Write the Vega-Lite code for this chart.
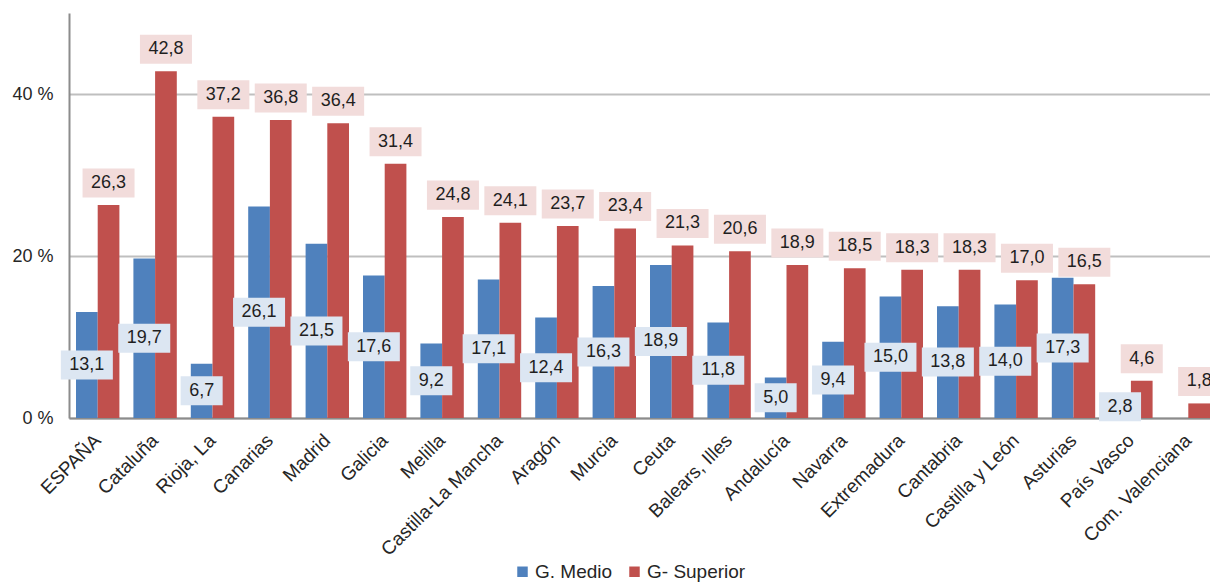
{
  "$schema": "https://vega.github.io/schema/vega-lite/v6.json",
  "autosize": "none",
  "width": 1141,
  "height": 405,
  "padding": {"left": 69, "top": 13, "right": 0, "bottom": 164},
  "background": "white",
  "config": {
    "font": "Liberation Sans",
    "view": {"stroke": null},
    "locale": {"number": {"decimal": ",", "thousands": ".", "grouping": [3], "currency": ["", " €"]}},
    "legend": {"padding": 0}
  },
  "data": {
    "values": [
      {"region": "ESPAÑA", "series": "G. Medio", "value": 13.1},
      {"region": "ESPAÑA", "series": "G- Superior", "value": 26.3},
      {"region": "Cataluña", "series": "G. Medio", "value": 19.7},
      {"region": "Cataluña", "series": "G- Superior", "value": 42.8},
      {"region": "Rioja, La", "series": "G. Medio", "value": 6.7},
      {"region": "Rioja, La", "series": "G- Superior", "value": 37.2},
      {"region": "Canarias", "series": "G. Medio", "value": 26.1},
      {"region": "Canarias", "series": "G- Superior", "value": 36.8},
      {"region": "Madrid", "series": "G. Medio", "value": 21.5},
      {"region": "Madrid", "series": "G- Superior", "value": 36.4},
      {"region": "Galicia", "series": "G. Medio", "value": 17.6},
      {"region": "Galicia", "series": "G- Superior", "value": 31.4},
      {"region": "Melilla", "series": "G. Medio", "value": 9.2},
      {"region": "Melilla", "series": "G- Superior", "value": 24.8},
      {"region": "Castilla-La Mancha", "series": "G. Medio", "value": 17.1},
      {"region": "Castilla-La Mancha", "series": "G- Superior", "value": 24.1},
      {"region": "Aragón", "series": "G. Medio", "value": 12.4},
      {"region": "Aragón", "series": "G- Superior", "value": 23.7},
      {"region": "Murcia", "series": "G. Medio", "value": 16.3},
      {"region": "Murcia", "series": "G- Superior", "value": 23.4},
      {"region": "Ceuta", "series": "G. Medio", "value": 18.9},
      {"region": "Ceuta", "series": "G- Superior", "value": 21.3},
      {"region": "Balears, Illes", "series": "G. Medio", "value": 11.8},
      {"region": "Balears, Illes", "series": "G- Superior", "value": 20.6},
      {"region": "Andalucía", "series": "G. Medio", "value": 5.0},
      {"region": "Andalucía", "series": "G- Superior", "value": 18.9},
      {"region": "Navarra", "series": "G. Medio", "value": 9.4},
      {"region": "Navarra", "series": "G- Superior", "value": 18.5},
      {"region": "Extremadura", "series": "G. Medio", "value": 15.0},
      {"region": "Extremadura", "series": "G- Superior", "value": 18.3},
      {"region": "Cantabria", "series": "G. Medio", "value": 13.8},
      {"region": "Cantabria", "series": "G- Superior", "value": 18.3},
      {"region": "Castilla y León", "series": "G. Medio", "value": 14.0},
      {"region": "Castilla y León", "series": "G- Superior", "value": 17.0},
      {"region": "Asturias", "series": "G. Medio", "value": 17.3},
      {"region": "Asturias", "series": "G- Superior", "value": 16.5},
      {"region": "País Vasco", "series": "G. Medio", "value": 2.8},
      {"region": "País Vasco", "series": "G- Superior", "value": 4.6},
      {"region": "Com. Valenciana", "series": "G- Superior", "value": 1.8}
    ]
  },
  "encoding": {
    "x": {
      "field": "region",
      "type": "nominal",
      "sort": null,
      "scale": {"range": [0, 1148], "paddingInner": 0.244, "paddingOuter": 0.122},
      "axis": {
        "title": null,
        "labelAngle": -45,
        "labelAlign": "right",
        "labelBaseline": "middle",
        "labelFontSize": 19,
        "labelColor": "#262626",
        "labelPadding": 19,
        "ticks": false,
        "domainColor": "#8C8C8C",
        "domainWidth": 2,
        "labelOverlap": false
      }
    },
    "xOffset": {
      "field": "series",
      "type": "nominal",
      "scale": {"domain": ["G. Medio", "G- Superior"]}
    }
  },
  "layer": [
    {
      "mark": {"type": "bar"},
      "encoding": {
        "y": {
          "field": "value",
          "type": "quantitative",
          "scale": {"domain": [0, 50], "nice": false},
          "axis": {
            "title": null,
            "values": [0, 20, 40],
            "labelExpr": "datum.value + ' %'",
            "labelFontSize": 18,
            "labelColor": "#262626",
            "labelPadding": 16,
            "ticks": false,
            "domainColor": "#8C8C8C",
            "domainWidth": 2,
            "gridColor": "#BFBFBF",
            "gridWidth": 2
          }
        },
        "color": {
          "field": "series",
          "type": "nominal",
          "scale": {"domain": ["G. Medio", "G- Superior"], "range": ["#4F81BD", "#C0504D"]},
          "legend": {
            "title": null,
            "orient": "none",
            "direction": "horizontal",
            "legendX": 444,
            "legendY": 549,
            "symbolType": "square",
            "symbolSize": 110,
            "symbolStrokeWidth": 0,
            "labelFontSize": 19,
            "labelColor": "#262626",
            "labelOffset": 3,
            "columnPadding": 12
          }
        }
      }
    },
    {
      "transform": [{"filter": "datum.series == 'G- Superior'"}],
      "mark": {"type": "point", "filled": true, "fill": "#F2DCDB", "opacity": 1, "strokeWidth": 0, "size": 2704},
      "encoding": {
        "y": {"field": "value", "type": "quantitative", "scale": {"domain": [0, 50], "nice": false}, "axis": null},
        "shape": {
          "condition": {"test": "datum.value < 10", "value": "M-0.808,-1.404L0.808,-1.404L0.808,-0.288L-0.808,-0.288Z"},
          "value": "M-1,-1.404L1,-1.404L1,-0.288L-1,-0.288Z"
        }
      }
    },
    {
      "transform": [{"filter": "datum.series == 'G- Superior'"}],
      "mark": {"type": "text", "fontSize": 18, "color": "#1F1F1F", "baseline": "middle", "dy": -22},
      "encoding": {
        "y": {"field": "value", "type": "quantitative", "scale": {"domain": [0, 50], "nice": false}, "axis": null},
        "text": {"field": "value", "type": "quantitative", "format": ".1f"}
      }
    },
    {
      "transform": [{"filter": "datum.series == 'G. Medio'"}],
      "mark": {"type": "point", "filled": true, "fill": "#DCE6F2", "opacity": 1, "strokeWidth": 0, "size": 2704},
      "encoding": {
        "y": {"field": "value", "type": "quantitative", "scale": {"domain": [0, 100], "nice": false}, "axis": null},
        "shape": {
          "condition": {"test": "datum.value < 10", "value": "M-0.808,-0.558L0.808,-0.558L0.808,0.558L-0.808,0.558Z"},
          "value": "M-1,-0.558L1,-0.558L1,0.558L-1,0.558Z"
        }
      }
    },
    {
      "transform": [{"filter": "datum.series == 'G. Medio'"}],
      "mark": {"type": "text", "fontSize": 18, "color": "#1F1F1F", "baseline": "middle"},
      "encoding": {
        "y": {"field": "value", "type": "quantitative", "scale": {"domain": [0, 100], "nice": false}, "axis": null},
        "text": {"field": "value", "type": "quantitative", "format": ".1f"}
      }
    }
  ],
  "resolve": {"scale": {"y": "independent"}}
}
